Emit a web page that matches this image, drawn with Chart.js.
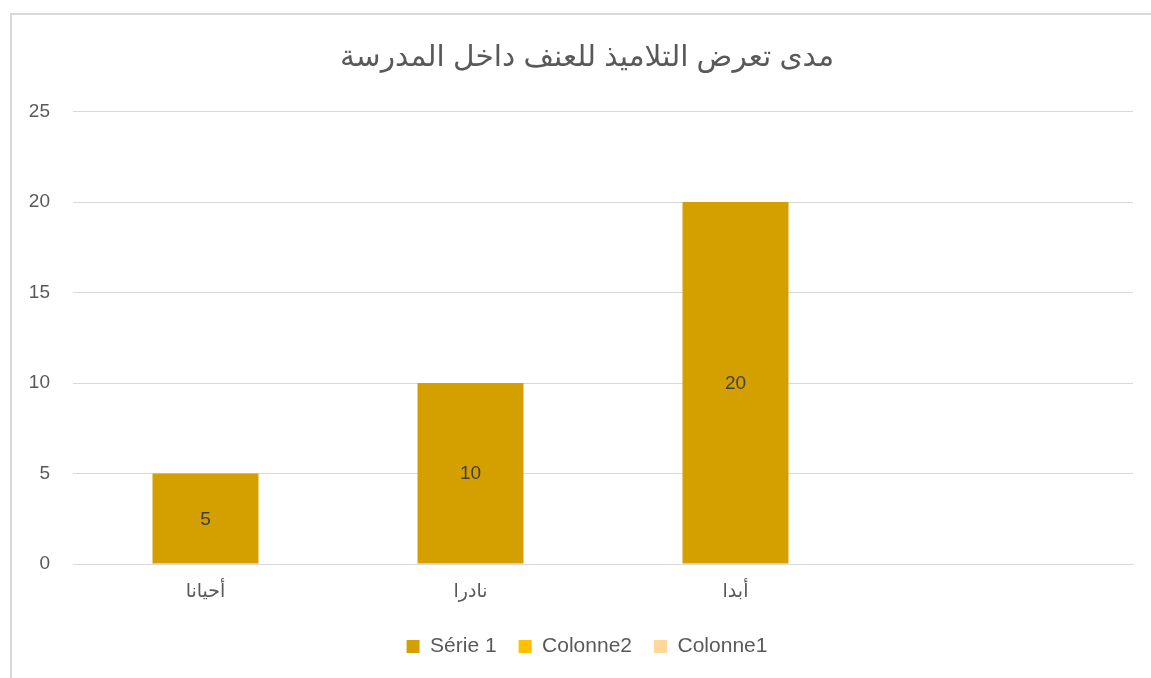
<!DOCTYPE html>
<html>
<head>
<meta charset="utf-8">
<script src="https://cdn.jsdelivr.net/npm/chart.js@4/dist/chart.umd.min.js"></script>
<style>
html,body{margin:0;padding:0;background:#fff;}
#wrap{position:relative;width:1151px;height:678px;overflow:hidden;}
canvas{display:block;}
</style>
</head>
<body>
<div id="wrap"><canvas id="c" width="1151" height="678"></canvas></div>
<script>
const categories = ["أحيانا", "نادرا", "أبدا", ""];
const serie1 = [5, 10, 20, null];
const colonne2 = [null, null, null, null];
const colonne1 = [null, null, null, null];
const yTicks = [0, 5, 10, 15, 20, 25];
const chartTitle = "مدى تعرض التلاميذ للعنف داخل المدرسة";

const FONT = "'Liberation Sans', 'DejaVu Sans', Arial, sans-serif";
const TXT = "#595959";

const frame = {
  id: 'frame',
  beforeDraw(chart) {
    const ctx = chart.ctx;
    ctx.save();
    ctx.fillStyle = '#fff';
    ctx.fillRect(0, 0, chart.width, chart.height);
    ctx.strokeStyle = '#d9d9d9';
    ctx.lineWidth = 2;
    ctx.beginPath();
    ctx.moveTo(11, chart.height + 5);
    ctx.lineTo(11, 14);
    ctx.lineTo(chart.width + 5, 14);
    ctx.stroke();
    ctx.restore();
  }
};

// centre title and legend on the outer frame (as in the reference) rather than the padded layout box
const shiftBlocks = {
  id: 'shiftBlocks',
  afterLayout(chart) {
    const dx = 15.5;
    [chart.titleBlock, chart.legend].forEach(b => {
      if (b) { b.left += dx; b.right += dx; }
    });
  }
};

const barLabels = {
  id: 'barLabels',
  afterDatasetsDraw(chart) {
    const ctx = chart.ctx;
    const meta = chart.getDatasetMeta(0);
    ctx.save();
    ctx.fillStyle = '#404040';
    ctx.font = "19px " + FONT;
    ctx.textAlign = 'center';
    ctx.textBaseline = 'middle';
    meta.data.forEach((el, i) => {
      const v = serie1[i];
      if (v === null || v === undefined) return;
      const y = (el.y + el.base) / 2 + 1;
      ctx.fillText(String(v), el.x, y);
    });
    ctx.restore();
  }
};

new Chart(document.getElementById('c'), {
  type: 'bar',
  data: {
    labels: categories,
    datasets: [
      { label: 'Série 1', data: serie1, backgroundColor: '#D4A000', skipNull: true },
      { label: 'Colonne2', data: colonne2, backgroundColor: '#FFC000', skipNull: true },
      { label: 'Colonne1', data: colonne1, backgroundColor: '#FFD899', skipNull: true }
    ]
  },
  options: {
    responsive: false,
    animation: false,
    layout: { padding: { left: 10, right: 18, top: 0, bottom: 11 } },
    datasets: { bar: { categoryPercentage: 1.0, barPercentage: 0.4 } },
    plugins: {
      title: {
        display: true,
        text: chartTitle,
        color: TXT,
        font: { family: FONT, size: 29.6, weight: 'normal' },
        padding: { top: 40, bottom: 36 }
      },
      legend: {
        position: 'bottom',
        labels: {
          color: TXT,
          font: { family: FONT, size: 21 },
          boxWidth: 13,
          boxHeight: 13,
          padding: 22,
          generateLabels(chart) {
            return chart.data.datasets.map((ds, i) => ({
              text: ds.label,
              fillStyle: ds.backgroundColor,
              strokeStyle: ds.backgroundColor,
              lineWidth: 0,
              hidden: false,
              datasetIndex: i,
              fontColor: TXT
            }));
          }
        }
      },
      tooltip: { enabled: false }
    },
    scales: {
      x: {
        grid: { display: false, drawTicks: false },
        border: { display: true, color: '#d9d9d9', width: 1 },
        ticks: { color: TXT, font: { family: FONT, size: 19 }, padding: 16 },
        afterFit(scale) { scale.height = 50; }
      },
      y: {
        min: 0, max: 25,
        afterBuildTicks(scale) { scale.ticks = yTicks.map(v => ({ value: v })); },
        grid: { color: '#d9d9d9', drawTicks: false },
        border: { display: false },
        ticks: { color: TXT, font: { family: FONT, size: 19 }, padding: 23 },
        afterFit(scale) { scale.width = 63; }
      }
    }
  },
  plugins: [frame, shiftBlocks, barLabels]
});
</script>
</body>
</html>
